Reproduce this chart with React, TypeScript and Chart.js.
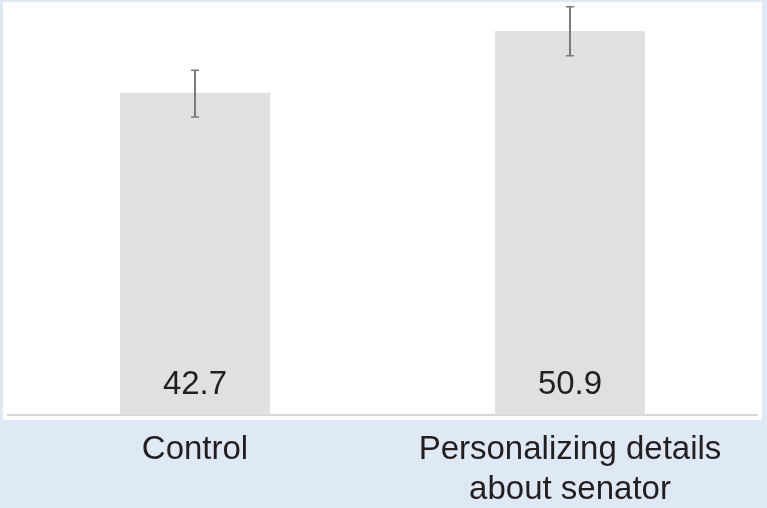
import React, { useEffect, useRef } from "react";
import { Chart, registerables } from "chart.js";

Chart.register(...registerables);

const categories: (string | string[])[] = ["Control", ["Personalizing details", "about senator"]];
const values: number[] = [42.7, 50.9];
const errLow: number[] = [39.5, 47.6];
const errHigh: number[] = [45.7, 54.1];
const valueLabels: string[] = ["42.7", "50.9"];

const FONT = "'Liberation Sans', Arial, Helvetica, sans-serif";

const panelPlugin = {
  id: "panel",
  beforeDraw(chart: any) {
    const ctx = chart.ctx;
    ctx.save();
    ctx.fillStyle = "#dfe9f5";
    ctx.fillRect(0, 0, chart.width, chart.height);
    ctx.fillStyle = "#ffffff";
    ctx.fillRect(3, 2, 759, 418);
    ctx.restore();
  },
};

const overlayPlugin = {
  id: "overlay",
  afterDatasetsDraw(chart: any) {
    const ctx = chart.ctx;
    const meta = chart.getDatasetMeta(0);
    const y = chart.scales.y;
    ctx.save();
    meta.data.forEach((bar: any, i: number) => {
      const x = bar.x;
      const yTop = y.getPixelForValue(errHigh[i]);
      const yBot = y.getPixelForValue(errLow[i]);
      ctx.strokeStyle = "#7a7a7a";
      ctx.lineWidth = 2;
      ctx.beginPath();
      ctx.moveTo(x, yTop);
      ctx.lineTo(x, yBot);
      ctx.stroke();
      ctx.lineWidth = 1.5;
      ctx.beginPath();
      ctx.moveTo(x - 4, yTop);
      ctx.lineTo(x + 4, yTop);
      ctx.moveTo(x - 4, yBot);
      ctx.lineTo(x + 4, yBot);
      ctx.stroke();
      ctx.fillStyle = "#231f20";
      ctx.font = `33px ${FONT}`;
      ctx.textAlign = "center";
      ctx.textBaseline = "middle";
      ctx.fillText(valueLabels[i], x, 385);
    });
    ctx.restore();
  },
};

export default function App() {
  const ref = useRef<HTMLCanvasElement>(null);
  useEffect(() => {
    if (!ref.current) return;
    const chart = new Chart(ref.current, {
      type: "bar",
      data: {
        labels: categories,
        datasets: [
          {
            data: values,
            backgroundColor: "#e0e0e2",
            borderWidth: 0,
            barPercentage: 0.4,
            categoryPercentage: 1,
          },
        ],
      },
      options: {
        animation: false,
        responsive: false,
        events: [],
        layout: { padding: { left: 7.5, right: 9.5, top: 0, bottom: 0 } },
        plugins: { legend: { display: false }, tooltip: { enabled: false } },
        scales: {
          y: { display: false, min: 0, max: 55 },
          x: {
            afterFit: (s: any) => {
              s.height = 93;
            },
            grid: { display: false, drawTicks: false },
            border: { display: true, color: "#d6d6d6", width: 2 },
            ticks: {
              padding: 14,
              color: "#231f20",
              font: { size: 33, family: FONT, lineHeight: 1.24 },
              maxRotation: 0,
              autoSkip: false,
            },
          },
        },
      },
      plugins: [panelPlugin, overlayPlugin],
    });
    return () => chart.destroy();
  }, []);
  return (
    <div style={{ position: "fixed", left: 0, top: 0, width: 767, height: 508, background: "#dfe9f5" }}>
      <canvas ref={ref} width={767} height={508} style={{ display: "block", width: 767, height: 508 }} />
    </div>
  );
}
